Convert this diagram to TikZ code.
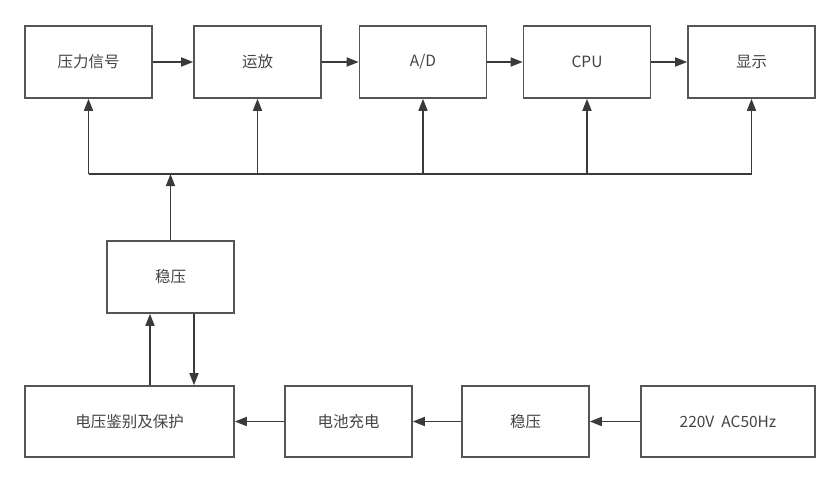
\documentclass[tikz,border=0pt]{standalone}
\usepackage{fontspec}
\newfontfamily\cjk{Noto Sans CJK SC}
\usetikzlibrary{arrows.meta}
\definecolor{linec}{HTML}{3A3A3A}
\definecolor{boxc}{HTML}{555555}
\definecolor{txtc}{HTML}{444444}
\begin{document}
\begin{tikzpicture}[x=1pt,y=-1pt,
  blk/.style={draw=boxc,line width=1.6pt,rectangle,minimum height=72pt,minimum width=127pt,inner sep=0pt,
    font=\cjk\fontsize{15.5}{18}\selectfont,text=txtc},
  conn/.style={draw=linec,line width=1.6pt},
  arr/.style={conn,-{Triangle[length=12pt,width=9pt]}}]
\useasboundingbox[fill=white] (0,0) rectangle (840,484);
% top row
\node[blk] (p)   at (88.5,62)  {压力信号};
\node[blk] (amp) at (257.5,62) {运放};
\node[blk] (ad)  at (423,62)   {A/D};
\node[blk] (cpu) at (587,62)   {CPU};
\node[blk] (dsp) at (751.5,62) {显示};
% regulator
\node[blk] (reg) at (170.5,277) {稳压};
% bottom row
\node[blk,minimum width=209pt,minimum height=71pt] (prot) at (129.5,421.5) {电压鉴别及保护};
\node[blk,minimum height=71pt] (bat)  at (348.5,421.5) {电池充电};
\node[blk,minimum height=71pt] (reg2) at (525.5,421.5) {稳压};
\node[blk,minimum width=174pt,minimum height=71pt] (ac) at (728,421.5) {220V\ \ AC50Hz};
% coordinates
\coordinate (busy) at (0,174);
\coordinate (upx) at (150,0);
\coordinate (dnx) at (194,0);
% top chain
\draw[arr] (p) -- (amp);
\draw[arr] (amp) -- (ad);
\draw[arr] (ad) -- (cpu);
\draw[arr] (cpu) -- (dsp);
% bus
\draw[conn] (p.south |- busy) -- (dsp.south |- busy);
\foreach \n in {p,amp,ad,cpu,dsp}{
  \draw[arr] (\n.south |- busy) -- (\n.south);
}
\draw[arr] (reg.north) -- (reg.north |- busy);
% regulator <-> protection
\draw[arr] (upx |- prot.north) -- (upx |- reg.south);
\draw[arr] (dnx |- reg.south) -- (dnx |- prot.north);
% bottom chain
\draw[arr] (ac) -- (reg2);
\draw[arr] (reg2) -- (bat);
\draw[arr] (bat) -- (prot);
\end{tikzpicture}
\end{document}
